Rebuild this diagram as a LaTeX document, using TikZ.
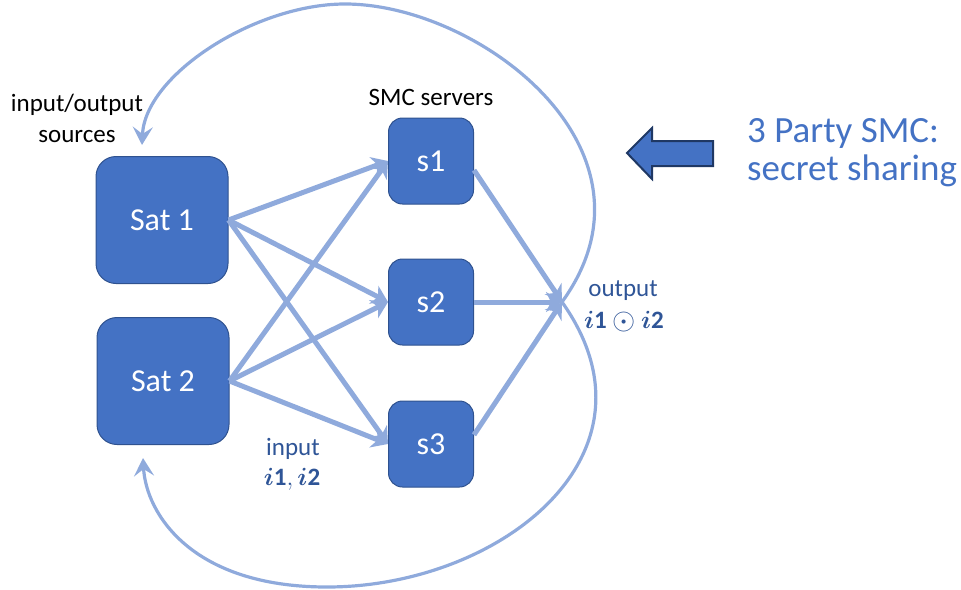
\documentclass[tikz,border=0pt]{standalone}
\usepackage{fontspec}
\setmainfont{Carlito}
\usepackage{amsmath}
\usetikzlibrary{arrows.meta}
\definecolor{boxfill}{HTML}{4472C4}
\definecolor{boxline}{HTML}{2F528F}
\definecolor{linkblue}{HTML}{8FAADC}
\definecolor{labelblue}{HTML}{2F5597}
\definecolor{arrowline}{HTML}{1F3864}
\newcommand{\bigdot}{\mathbin{\raisebox{-0.06em}{\scalebox{1.2}{$\odot$}}}}
\begin{document}
\begin{tikzpicture}[x=1pt,y=-1pt,
  satbox/.style={draw=boxline, line width=1pt, fill=boxfill, rounded corners=20pt,
    minimum width=132pt, minimum height=127pt, inner sep=0pt,
    text=white, font=\fontsize{32}{38}\selectfont},
  srvbox/.style={draw=boxline, line width=1pt, fill=boxfill, rounded corners=14pt,
    minimum width=85pt, minimum height=86pt, inner sep=0pt,
    text=white, font=\fontsize{32}{38}\selectfont},
  share/.style={draw=linkblue, line width=5pt,
    -{Stealth[length=16pt, width=20pt, inset=5pt]}},
  loopback/.style={draw=linkblue, line width=3.2pt,
    -{Stealth[length=18pt, width=20pt, inset=7pt]}},
  caption/.style={inner sep=0pt, anchor=base, font=\fontsize{25}{31}\selectfont},
  bigcaption/.style={inner sep=0pt, anchor=base west, text=boxfill,
    font=\fontsize{37}{44}\selectfont}]
\useasboundingbox (0,0) rectangle (961,589);

% input/output satellites and SMC servers
\node[satbox] (sat1) at (162,220) {Sat 1};
\node[satbox] (sat2) at (163,381) {Sat 2};
\node[srvbox] (s1) at (431,161) {s1};
\node[srvbox] (s2) at (431,302) {s2};
\node[srvbox] (s3) at (431,444) {s3};

% joining point of the shares and ends of the feedback loops
\coordinate (out) at (562,302);
\coordinate (topc) at (345,4);
\coordinate (in1) at (142,145);
\coordinate (botc) at (327,587);
\coordinate (in2) at (143,458);

% feedback of the result to the sources
\draw[loopback] (out) .. controls (672,150) and (479,4) .. (topc)
  .. controls (255,4) and (145,75) .. (in1);
\draw[loopback] (out) .. controls (670,454) and (500,587) .. (botc)
  .. controls (191,587) and (146,513) .. (in2);

% input shares sent to every server
\foreach \src in {sat1,sat2}{
  \foreach \dst in {s1,s2,s3}{
    \draw[share] (\src.east) -- (\dst.west);
  }
}

% servers combine their shares
\draw[share] (s1.-12) -- (out);
\draw[share] (s3.12) -- (out);
\draw[share] (s2.east) -- (out);

% labels
\node[caption] (io1) at (77,111) {input/output};
\node[caption] (io2) at (77,142) {sources};
\node[caption] (smc) at (431,105) {SMC servers};
\node[caption, text=labelblue] (outl) at (623,296) {output};
\node[caption, text=labelblue] (outm) at (624,328)
  {$\boldsymbol{i}\mathbf{1}\bigdot\boldsymbol{i}\mathbf{2}$};
\node[caption, text=labelblue] (inl) at (293,455) {input};
\node[caption, text=labelblue] (inm) at (292,485)
  {$\boldsymbol{i}\mathbf{1},\boldsymbol{i}\mathbf{2}$};

% block arrow and its caption
\draw[fill=boxfill, draw=arrowline, line width=2pt, line join=miter]
  (627,153) -- (652,128) -- (652,141) -- (713,141) -- (713,166)
  -- (652,166) -- (652,179) -- cycle;
\node[bigcaption] (t1) at (747,142) {3 Party SMC:};
\node[bigcaption] (t2) at (747,180) {secret sharing};
\end{tikzpicture}
\end{document}
